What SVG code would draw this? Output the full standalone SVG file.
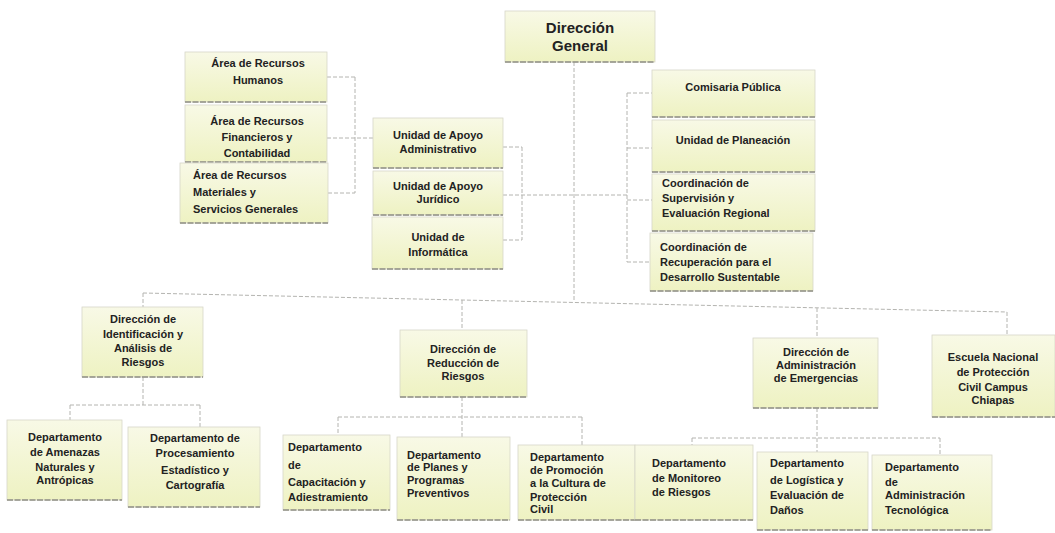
<svg xmlns="http://www.w3.org/2000/svg" width="1055" height="533" viewBox="0 0 1055 533">
<defs>
<linearGradient id="fill" x1="0" y1="0" x2="0" y2="1">
<stop offset="0" stop-color="#f8f9e6"/>
<stop offset="1" stop-color="#eef2c2"/>
</linearGradient>
<style>
.box{fill:url(#fill);stroke:#d6d6c8;stroke-width:0.8}
.sh{stroke:#8e8e84;stroke-width:1.4;stroke-dasharray:6 1.5}
.t{font-family:"Liberation Sans",Arial,sans-serif;font-weight:bold;font-size:11px;fill:#222}
.c{text-anchor:middle}
.big{font-size:15px}
.con line{stroke:#b4b4b0;stroke-width:1;stroke-dasharray:4 2;fill:none}
</style>
</defs>
<rect width="1055" height="533" fill="#ffffff"/>
<g id="connectors" class="con">
<line x1="574" y1="62" x2="574" y2="302"/>
<line x1="355" y1="77" x2="355" y2="193"/>
<line x1="327" y1="77" x2="355" y2="77"/>
<line x1="327" y1="138" x2="373" y2="138"/>
<line x1="328" y1="193" x2="355" y2="193"/>
<line x1="522" y1="147" x2="522" y2="240"/>
<line x1="503" y1="147" x2="522" y2="147"/>
<line x1="503" y1="195" x2="627" y2="195"/>
<line x1="503" y1="240" x2="522" y2="240"/>
<line x1="627" y1="93" x2="627" y2="262"/>
<line x1="627" y1="93" x2="652" y2="93"/>
<line x1="627" y1="148" x2="652" y2="148"/>
<line x1="627" y1="200" x2="652" y2="200"/>
<line x1="627" y1="262" x2="650" y2="262"/>
<line x1="143" y1="293" x2="1007" y2="312"/>
<line x1="143" y1="293" x2="143" y2="307"/>
<line x1="462" y1="300" x2="462" y2="330"/>
<line x1="817" y1="308" x2="817" y2="338"/>
<line x1="1007" y1="312" x2="1007" y2="335"/>
<line x1="143" y1="377" x2="143" y2="405"/>
<line x1="70" y1="405" x2="200" y2="405"/>
<line x1="70" y1="405" x2="70" y2="420"/>
<line x1="200" y1="405" x2="200" y2="427"/>
<line x1="462" y1="397" x2="462" y2="437"/>
<line x1="338" y1="417" x2="582" y2="417"/>
<line x1="338" y1="417" x2="338" y2="435"/>
<line x1="582" y1="417" x2="582" y2="445"/>
<line x1="817" y1="408" x2="817" y2="452"/>
<line x1="692" y1="438" x2="940" y2="438"/>
<line x1="692" y1="438" x2="692" y2="445"/>
<line x1="940" y1="438" x2="940" y2="455"/>
</g>
<g id="dg"><rect class="box" x="505" y="11" width="150" height="51"/><line class="sh" x1="505" y1="62" x2="655" y2="62"/>
<text class="t c big" x="580" y="33">Dirección</text><text class="t c big" x="580" y="51">General</text></g>
<g id="rh"><rect class="box" x="185" y="52" width="142" height="50"/><line class="sh" x1="185" y1="102" x2="327" y2="102"/>
<text class="t c" x="258" y="67">Área de Recursos</text><text class="t c" x="258" y="84">Humanos</text></g>
<g id="rf"><rect class="box" x="185" y="105" width="142" height="57"/><line class="sh" x1="185" y1="162" x2="327" y2="162"/>
<text class="t c" x="257" y="125">Área de Recursos</text><text class="t c" x="257" y="141">Financieros  y</text><text class="t c" x="257" y="157">Contabilidad</text></g>
<g id="rm"><rect class="box" x="180" y="163" width="148" height="60"/><line class="sh" x1="180" y1="223" x2="328" y2="223"/>
<text class="t" x="193" y="179">Área de Recursos</text><text class="t" x="193" y="196">Materiales y</text><text class="t" x="193" y="213">Servicios Generales</text></g>
<g id="ua"><rect class="box" x="373" y="118" width="130" height="50"/><line class="sh" x1="373" y1="168" x2="503" y2="168"/>
<text class="t c" x="438" y="139">Unidad de Apoyo</text><text class="t c" x="438" y="153">Administrativo</text></g>
<g id="uj"><rect class="box" x="373" y="171" width="130" height="44"/><line class="sh" x1="373" y1="215" x2="503" y2="215"/>
<text class="t c" x="438" y="190">Unidad de Apoyo</text><text class="t c" x="438" y="203">Jurídico</text></g>
<g id="ui"><rect class="box" x="372" y="217" width="131" height="52"/><line class="sh" x1="372" y1="269" x2="503" y2="269"/>
<text class="t c" x="438" y="241">Unidad de</text><text class="t c" x="438" y="256">Informática</text></g>
<g id="cp"><rect class="box" x="652" y="70" width="163" height="47"/><line class="sh" x1="652" y1="117" x2="815" y2="117"/>
<text class="t c" x="733" y="91">Comisaria Pública</text></g>
<g id="up"><rect class="box" x="652" y="120" width="163" height="52"/><line class="sh" x1="652" y1="172" x2="815" y2="172"/>
<text class="t c" x="733" y="144">Unidad de Planeación</text></g>
<g id="cs"><rect class="box" x="652" y="174" width="163" height="57"/><line class="sh" x1="652" y1="231" x2="815" y2="231"/>
<text class="t" x="662" y="187">Coordinación de</text><text class="t" x="662" y="202">Supervisión  y</text><text class="t" x="662" y="217">Evaluación Regional</text></g>
<g id="cr"><rect class="box" x="650" y="233" width="163" height="58"/><line class="sh" x1="650" y1="291" x2="813" y2="291"/>
<text class="t" x="660" y="251">Coordinación de</text><text class="t" x="660" y="266">Recuperación para el</text><text class="t" x="660" y="281">Desarrollo Sustentable</text></g>
<g id="di"><rect class="box" x="82" y="307" width="121" height="70"/><line class="sh" x1="82" y1="377" x2="203" y2="377"/>
<text class="t c" x="143" y="323">Dirección de</text><text class="t c" x="143" y="338">Identificación y</text><text class="t c" x="143" y="352">Análisis de</text><text class="t c" x="143" y="366">Riesgos</text></g>
<g id="dr"><rect class="box" x="400" y="330" width="127" height="67"/><line class="sh" x1="400" y1="397" x2="527" y2="397"/>
<text class="t c" x="463" y="353">Dirección de</text><text class="t c" x="463" y="367">Reducción de</text><text class="t c" x="463" y="380">Riesgos</text></g>
<g id="de"><rect class="box" x="753" y="338" width="125" height="70"/><line class="sh" x1="753" y1="408" x2="878" y2="408"/>
<text class="t c" x="816" y="356">Dirección de</text><text class="t c" x="816" y="369">Administración</text><text class="t c" x="816" y="382">de Emergencias</text></g>
<g id="en"><rect class="box" x="932" y="335" width="123" height="82"/><line class="sh" x1="932" y1="417" x2="1055" y2="417"/>
<text class="t c" x="993" y="361">Escuela Nacional</text><text class="t c" x="993" y="376">de Protección</text><text class="t c" x="993" y="391">Civil Campus</text><text class="t c" x="993" y="404">Chiapas</text></g>
<g id="da"><rect class="box" x="7" y="420" width="115" height="80"/><line class="sh" x1="7" y1="500" x2="122" y2="500"/>
<text class="t c" x="65" y="441">Departamento</text><text class="t c" x="65" y="456">de Amenazas</text><text class="t c" x="65" y="471">Naturales y</text><text class="t c" x="65" y="484">Antrópicas</text></g>
<g id="dp"><rect class="box" x="128" y="427" width="132" height="80"/><line class="sh" x1="128" y1="507" x2="260" y2="507"/>
<text class="t c" x="195" y="442">Departamento de</text><text class="t c" x="195" y="457">Procesamiento</text><text class="t c" x="195" y="474">Estadístico y</text><text class="t c" x="195" y="489">Cartografía</text></g>
<g id="dc"><rect class="box" x="283" y="435" width="107" height="75"/><line class="sh" x1="283" y1="510" x2="390" y2="510"/>
<text class="t" x="288" y="451">Departamento</text><text class="t" x="288" y="469">de</text><text class="t" x="288" y="486">Capacitación y</text><text class="t" x="288" y="501">Adiestramiento</text></g>
<g id="dl"><rect class="box" x="397" y="437" width="113" height="83"/><line class="sh" x1="397" y1="520" x2="510" y2="520"/>
<text class="t" x="407" y="459">Departamento</text><text class="t" x="407" y="471">de Planes y</text><text class="t" x="407" y="484">Programas</text><text class="t" x="407" y="497">Preventivos</text></g>
<g id="dm"><rect class="box" x="518" y="445" width="117" height="75"/><line class="sh" x1="518" y1="520" x2="635" y2="520"/>
<text class="t" x="530" y="461">Departamento</text><text class="t" x="530" y="474">de Promoción</text><text class="t" x="530" y="487">a la Cultura de</text><text class="t" x="530" y="501">Protección</text><text class="t" x="530" y="513">Civil</text></g>
<g id="mo"><rect class="box" x="635" y="445" width="118" height="75"/><line class="sh" x1="635" y1="520" x2="753" y2="520"/>
<text class="t" x="652" y="467">Departamento</text><text class="t" x="652" y="482">de Monitoreo</text><text class="t" x="652" y="496">de Riesgos</text></g>
<g id="lo"><rect class="box" x="757" y="452" width="111" height="78"/><line class="sh" x1="757" y1="530" x2="868" y2="530"/>
<text class="t" x="770" y="467">Departamento</text><text class="t" x="770" y="484">de Logística y</text><text class="t" x="770" y="499">Evaluación de</text><text class="t" x="770" y="514">Daños</text></g>
<g id="te"><rect class="box" x="872" y="455" width="120" height="75"/><line class="sh" x1="872" y1="530" x2="992" y2="530"/>
<text class="t" x="885" y="471">Departamento</text><text class="t" x="885" y="486">de</text><text class="t" x="885" y="499">Administración</text><text class="t" x="885" y="514">Tecnológica</text></g>
</svg>
